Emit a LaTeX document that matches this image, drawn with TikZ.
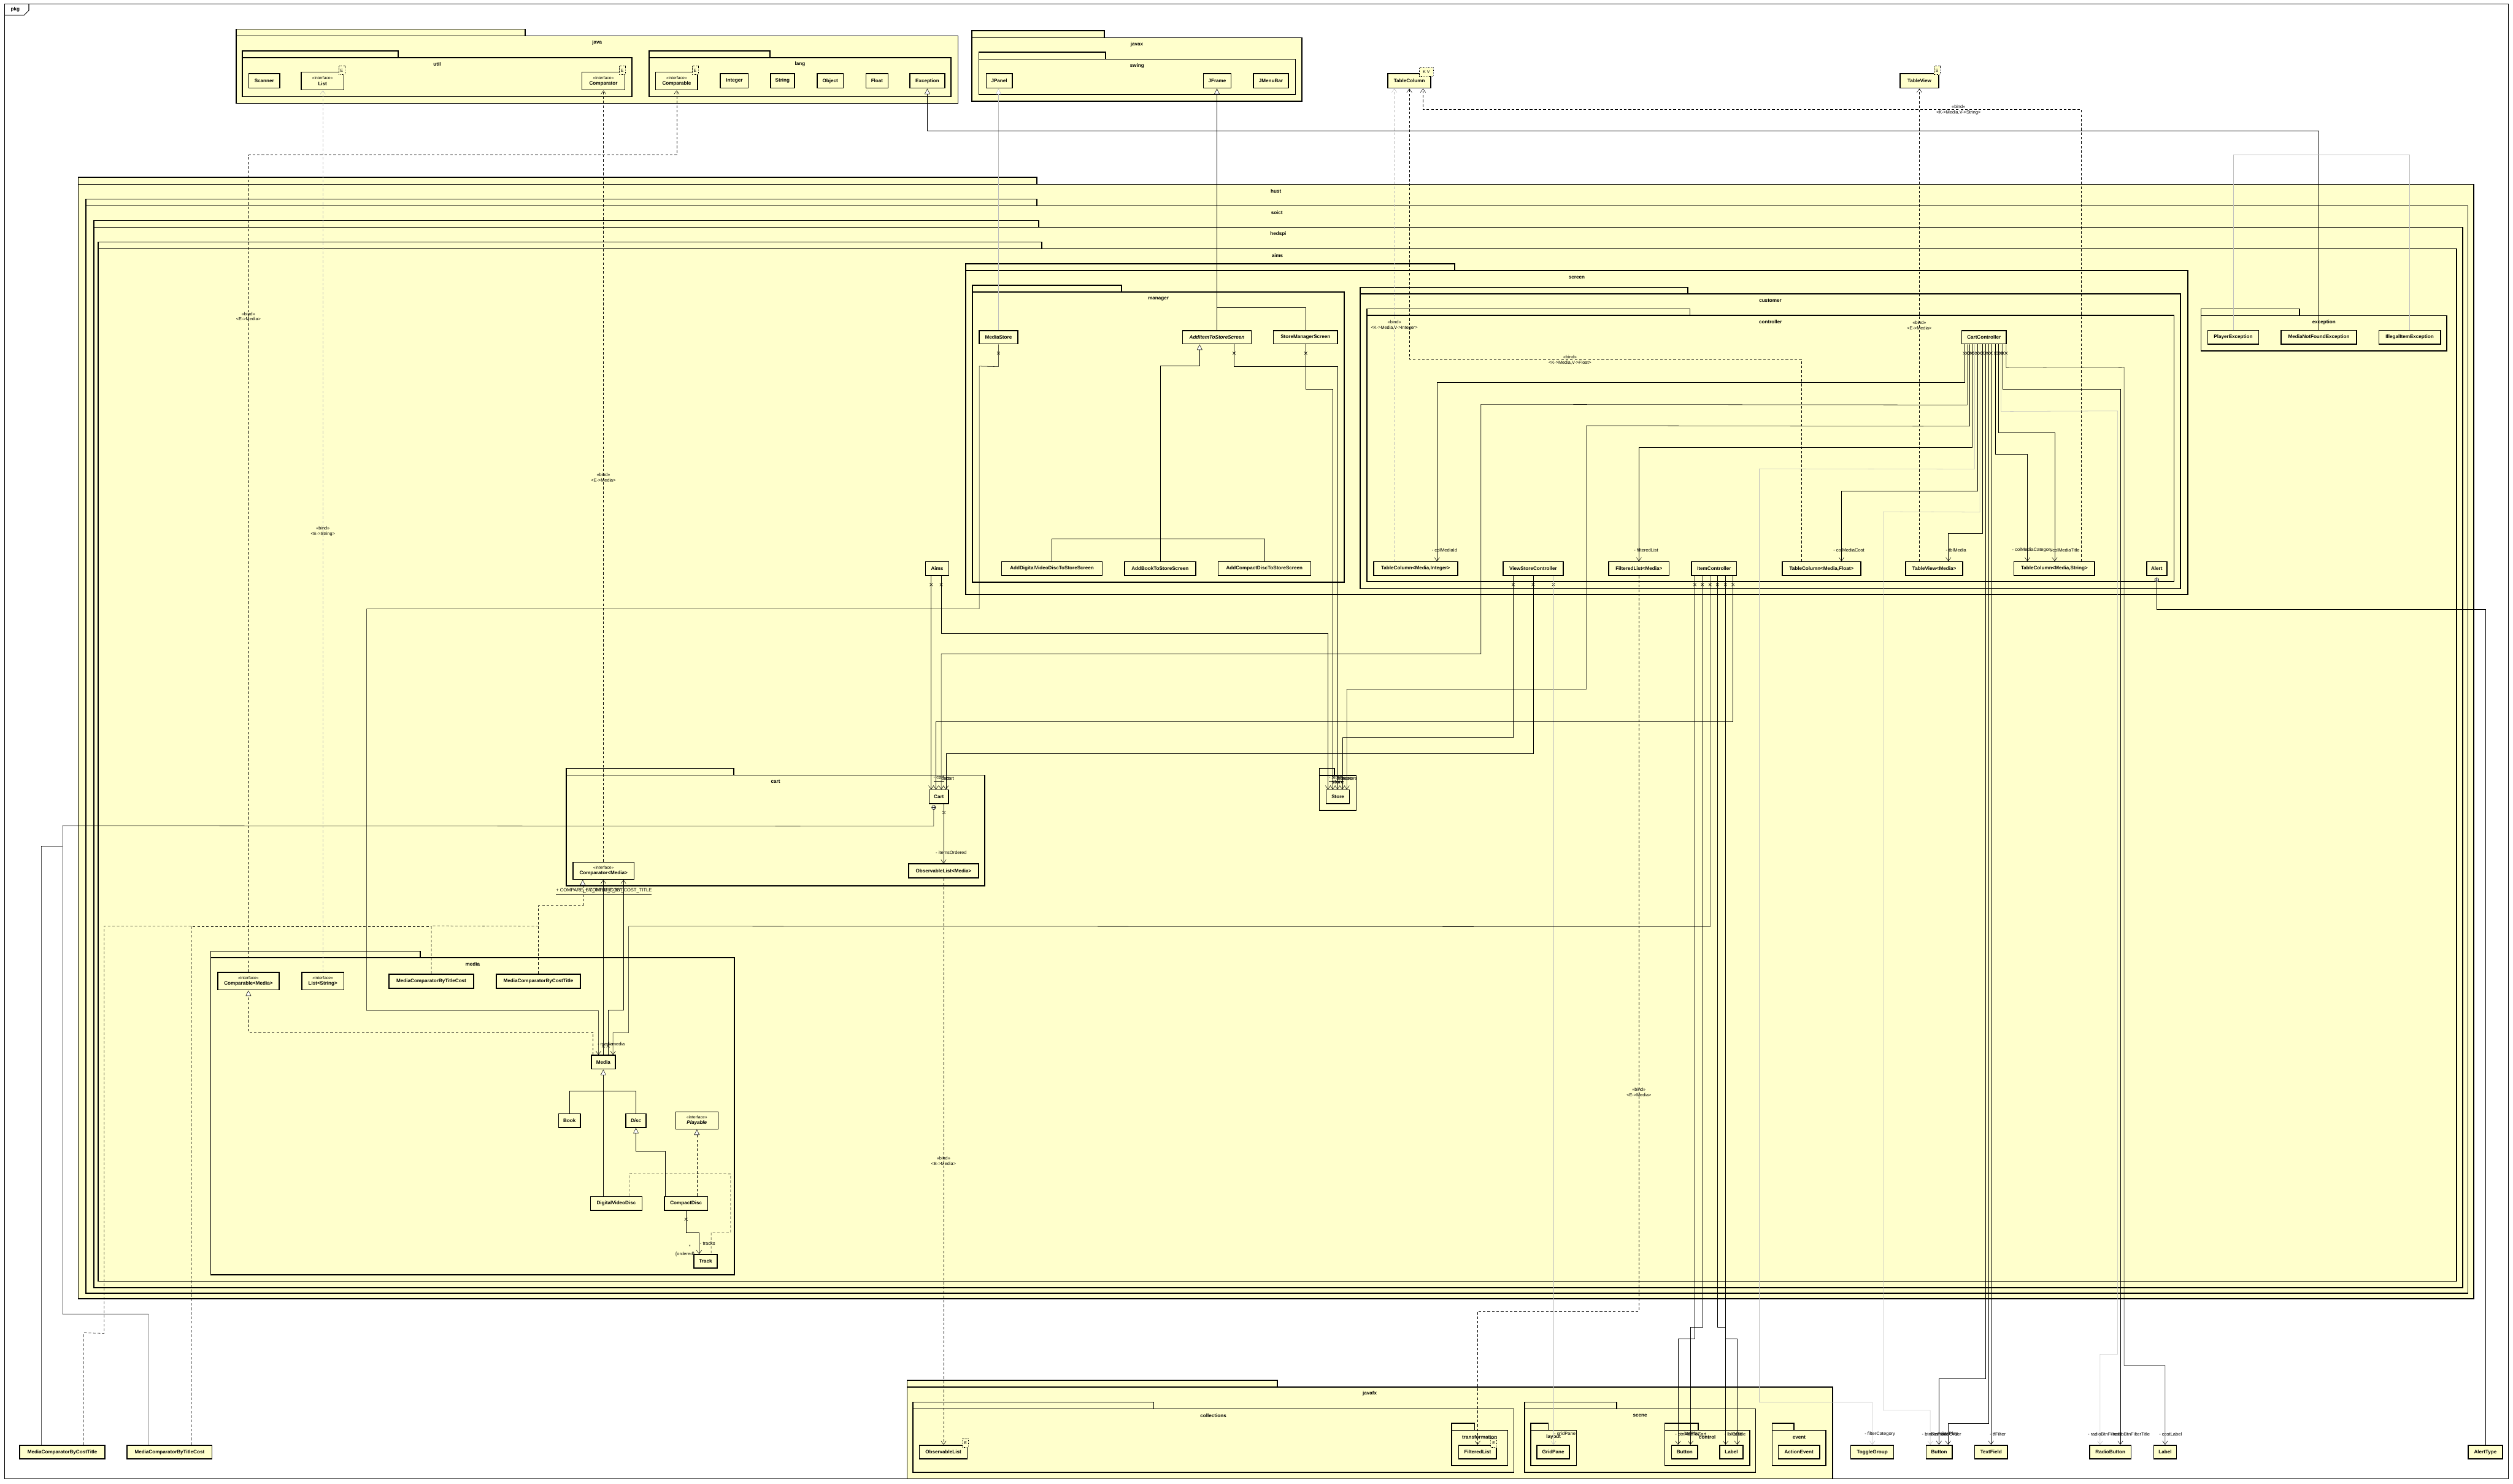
\documentclass[tikz,border=0pt]{standalone}
\usepackage{fontspec}
\setmainfont{Liberation Sans}
\usetikzlibrary{arrows.meta}
\definecolor{giallo}{HTML}{FFFFCC}
\definecolor{grigio}{HTML}{BEBEBE}
\newcommand{\stereo}[1]{{\fontsize{2.6}{3}\selectfont\mdseries #1}\\}
\newcommand{\umlpkg}[7]{%
  \draw[pkgbox] (#1,#3) rectangle (#2,#4);
  \draw[pkgbox] (#1,#4) rectangle (#5,#6);
  \node[pkglbl] at ({(#1+#5)/2},#4+4.2) {#7};}

\begin{document}
\begin{tikzpicture}[x=1pt, y=-1pt,
  pkgbox/.style={draw, line width=0.6, fill=giallo},
  pkglbl/.style={font=\fontsize{3.1}{3.6}\selectfont\bfseries, inner sep=0},
  cls/.style={draw, line width=0.6, fill=giallo, inner sep=0, align=center,
    font=\fontsize{3.1}{3.5}\selectfont\bfseries},
  tparam/.style={draw, dash pattern=on 0.5pt off 0.5pt, line width=0.25, fill=giallo,
    inner sep=0.3, font=\fontsize{2.6}{3}\selectfont},
  conn/.style={line width=0.2},
  assoc/.style={conn, -{Straight Barb[length=2.2pt, width=3.2pt]}},
  gen/.style={conn, -{Triangle[length=3.4pt, width=3.4pt, fill=white]}},
  dashd/.style={conn, dash pattern=on 1.6pt off 1.2pt},
  real/.style={gen, dashd},
  bind/.style={assoc, dashd},
  rolelbl/.style={font=\fontsize{2.9}{3}\selectfont, inner sep=0},
  bindlbl/.style={font=\fontsize{2.8}{3.4}\selectfont, align=center, inner sep=0},
  xmark/.pic={\draw[line width=0.2] (-0.9,-0.9) -- (0.9,0.9) (-0.9,0.9) -- (0.9,-0.9);},
  nest/.pic={\draw[line width=0.2, fill=white] (0,0) circle (1.3pt);
    \draw[line width=0.2] (-1.3,0) -- (1.3,0) (0,-1.3) -- (0,1.3);}]
\useasboundingbox (0,0) rectangle (1568,926);
% cornice
\draw[line width=0.4] (2.8,2.5) rectangle (1565,922.8);
\draw[line width=0.4] (2.8,9.5) -- (15,9.5) -- (18,6.5) -- (18,2.5);
\node[pkglbl] at (9.5,6) {pkg};

% pacchetti
\umlpkg{147.3}{327.7}{18.2}{22.4}{597.8}{64.5}{java}
\umlpkg{151.2}{248.4}{31.7}{35.9}{394.3}{60.3}{util}
\umlpkg{405}{480.4}{31.7}{35.9}{593.3}{60.3}{lang}
\umlpkg{606.4}{689}{19.2}{23.5}{812.3}{63.2}{javax}
\umlpkg{610.7}{689.8}{32.6}{37}{808.3}{59}{swing}
\umlpkg{48.8}{647}{110.7}{115}{1543.5}{810.5}{hust}
\umlpkg{53.6}{647}{124.2}{128.4}{1539.8}{807}{soict}
\umlpkg{58.5}{648}{137.7}{141.9}{1536.6}{803.5}{hedspi}
\umlpkg{61.3}{650}{151.1}{155.3}{1532.7}{799.5}{aims}
\umlpkg{602.6}{907.7}{164.6}{168.8}{1365}{371}{screen}
\umlpkg{606.8}{699.7}{178}{182.3}{838.8}{363.2}{manager}
\umlpkg{848.7}{1053}{179.3}{183.4}{1360.5}{367.3}{customer}
\umlpkg{853}{1054.5}{192.8}{196.7}{1356.5}{363}{controller}
\umlpkg{1373.3}{1434.7}{192.7}{196.9}{1526.7}{219}{exception}
\umlpkg{353.3}{457.9}{479.4}{483.6}{614.5}{552.8}{cart}
\umlpkg{823.2}{832.6}{479.4}{483.8}{846.2}{505.6}{store}
\umlpkg{131.5}{262.3}{593.6}{597.6}{458.3}{795.5}{media}
\umlpkg{565.9}{797}{861.4}{865.5}{1143.5}{922.8}{javafx}
\umlpkg{569.6}{719.8}{874.9}{879.1}{944.5}{918.8}{collections}
\umlpkg{905.8}{920}{888.2}{892.5}{940.7}{914.6}{transformation}
\umlpkg{951.2}{1008.6}{874.9}{879.1}{1095.4}{918.8}{scene}
\umlpkg{955}{966}{888.2}{892.5}{983.7}{914.6}{layout}
\umlpkg{1038.8}{1059.7}{888.2}{892.5}{1091.7}{914.6}{control}
\umlpkg{1105.8}{1119.3}{888.2}{892.5}{1139.3}{914.6}{event}

% java, javax
\node[cls, minimum width=19.2, minimum height=9] (scanner) at (164.9,50.5) {Scanner};
\node[cls, minimum width=26.5, minimum height=11.1] (list) at (201.25,50.55) {\stereo{<<interface>>}List};
\node[cls, minimum width=26.8, minimum height=11.1] (comparator) at (376.5,50.55) {\stereo{<<interface>>}Comparator};
\node[cls, minimum width=26.2, minimum height=11.1] (comparable) at (422.2,50.55) {\stereo{<<interface>>}Comparable};
\node[cls, minimum width=17.4, minimum height=9] (integer) at (458.2,50.5) {Integer};
\node[cls, minimum width=15.1, minimum height=9] (string) at (488.25,50.5) {String};
\node[cls, minimum width=16.2, minimum height=9] (object) at (518,50.5) {Object};
\node[cls, minimum width=13.8, minimum height=9] (float) at (547.2,50.5) {Float};
\node[cls, minimum width=21.8, minimum height=9] (exception) at (578.6,50.5) {Exception};
\node[tparam, minimum width=3.8, minimum height=5.4] (listE) at (213.2,43.9) {E};
\node[tparam, minimum width=3.8, minimum height=5.4] (comparatorE) at (388.2,43.9) {E};
\node[tparam, minimum width=3.8, minimum height=5.4] (comparableE) at (433.7,43.9) {E};
\node[cls, minimum width=16.3, minimum height=9] (jpanel) at (623.45,50.5) {JPanel};
\node[cls, minimum width=17.2, minimum height=9] (jframe) at (759.5,50.5) {JFrame};
\node[cls, minimum width=22, minimum height=9] (jmenubar) at (793,50.5) {JMenuBar};
\node[cls, minimum width=26.7, minimum height=9] (tablecolumn) at (879.35,50.5) {TableColumn};
\node[tparam, minimum width=8.6, minimum height=5.5] (tablecolumnKV) at (890,44.9) {K V};
\node[cls, minimum width=24, minimum height=9] (tableview) at (1197.6,50.5) {TableView};
\node[tparam, minimum width=3.8, minimum height=5.4] (tableviewS) at (1208.6,43.9) {S};

% manager
\node[cls, minimum width=24, minimum height=8.3] (mediastore) at (623,210.45) {MediaStore};
\node[cls, minimum width=43, minimum height=8.3] (additem) at (759.3,210.45) {\itshape AddItemToStoreScreen};
\node[cls, minimum width=40.1, minimum height=8.3] (storemgr) at (814.55,210.45) {StoreManagerScreen};
\node[cls, minimum width=62.7, minimum height=8.5] (adddvd) at (656.35,354.75) {AddDigitalVideoDiscToStoreScreen};
\node[cls, minimum width=44.4, minimum height=8.5] (addbook) at (723.8,354.75) {AddBookToStoreScreen};
\node[cls, minimum width=57.8, minimum height=8.5] (addcd) at (788.9,354.75) {AddCompactDiscToStoreScreen};

% controller
\node[cls, minimum width=27.8, minimum height=8.3] (cartctl) at (1237.9,210.45) {CartController};
\node[cls, minimum width=52.5, minimum height=8.5] (colint) at (883.25,354.75) {TableColumn<Media,Integer>};
\node[cls, minimum width=37.6, minimum height=8.5] (viewstore) at (956.6,354.75) {ViewStoreController};
\node[cls, minimum width=37.6, minimum height=8.5] (filtered) at (1022.6,354.75) {FilteredList<Media>};
\node[cls, minimum width=28.1, minimum height=8.5] (itemctl) at (1069.55,354.75) {ItemController};
\node[cls, minimum width=49, minimum height=8.5] (colfloat) at (1136.5,354.75) {TableColumn<Media,Float>};
\node[cls, minimum width=35.7, minimum height=8.5] (tblview) at (1206.85,354.75) {TableView<Media>};
\node[cls, minimum width=50.4, minimum height=8.5] (colstr) at (1281.8,354.75) {TableColumn<Media,String>};
\node[cls, minimum width=12.6, minimum height=8.5] (alert) at (1345.7,354.75) {Alert};
\node[cls, minimum width=14.5, minimum height=8.5] (aims) at (584.75,354.75) {Aims};

% exception
\node[cls, minimum width=31.8, minimum height=8.5] (playerexc) at (1393.4,210.45) {PlayerException};
\node[cls, minimum width=47.1, minimum height=8.5] (medianotfound) at (1446.85,210.45) {MediaNotFoundException};
\node[cls, minimum width=38.4, minimum height=8.5] (illegal) at (1503.5,210.45) {IllegalItemException};

% cart, store
\node[cls, minimum width=12.2, minimum height=8.6] (cart) at (585.8,497.2) {Cart};
\node[cls, minimum width=43.7, minimum height=8.6] (obslistmedia) at (588.75,543.4) {ObservableList<Media>};
\node[cls, minimum width=38.1, minimum height=10.7] (compmedia) at (376.55,543.35) {\stereo{<<interface>>}Comparator<Media>};
\node[cls, minimum width=14.5, minimum height=8.5] (storecls) at (834.75,497.15) {Store};

% media
\node[cls, minimum width=38.4, minimum height=10.9] (comparablemedia) at (155,612.25) {\stereo{<<interface>>}Comparable<Media>};
\node[cls, minimum width=26.3, minimum height=10.9] (liststring) at (201.45,612.25) {\stereo{<<interface>>}List<String>};
\node[cls, minimum width=52.7, minimum height=8.7] (mctc) at (269.15,612.25) {MediaComparatorByTitleCost};
\node[cls, minimum width=52.5, minimum height=8.7] (mcct) at (335.95,612.25) {MediaComparatorByCostTitle};
\node[cls, minimum width=14.9, minimum height=8.6] (media) at (376.45,662.8) {Media};
\node[cls, minimum width=13.7, minimum height=8.5] (book) at (355.35,699.25) {Book};
\node[cls, minimum width=12.6, minimum height=8.5] (disc) at (396.8,699.25) {\itshape Disc};
\node[cls, minimum width=26.4, minimum height=10.7] (playable) at (434.8,699.15) {\stereo{<<interface>>}\itshape Playable};
\node[cls, minimum width=32.2, minimum height=8.6] (dvd) at (384.5,750.9) {DigitalVideoDisc};
\node[cls, minimum width=27.1, minimum height=8.6] (cd) at (428.05,750.9) {CompactDisc};
\node[cls, minimum width=14.4, minimum height=8.5] (track) at (440.2,787.05) {Track};

% javafx
\node[cls, minimum width=29.8, minimum height=8.6] (obslist) at (588.6,906.1) {ObservableList};
\node[tparam, minimum width=3.8, minimum height=5.5] (obslistE) at (602.4,900.5) {E};
\node[cls, minimum width=23.5, minimum height=8.6] (filteredlist) at (921.95,906.1) {FilteredList};
\node[tparam, minimum width=3.8, minimum height=5.5] (filteredlistE) at (932,900.5) {E};
\node[cls, minimum width=20.2, minimum height=8.6] (gridpane) at (969.1,906.1) {GridPane};
\node[cls, minimum width=16.3, minimum height=8.6] (button) at (1051.15,906.1) {Button};
\node[cls, minimum width=14.6, minimum height=8.6] (label) at (1080.3,906.1) {Label};
\node[cls, minimum width=25.7, minimum height=8.6] (actionevent) at (1122.45,906.1) {ActionEvent};

% fuori dai pacchetti
\node[cls, minimum width=26.8, minimum height=8.6] (togglegroup) at (1168.2,906.1) {ToggleGroup};
\node[cls, minimum width=16.2, minimum height=8.6] (buttonb) at (1209.9,906.1) {Button};
\node[cls, minimum width=20.6, minimum height=8.6] (textfield) at (1242.3,906.1) {TextField};
\node[cls, minimum width=25.7, minimum height=8.6] (radiobutton) at (1316.75,906.1) {RadioButton};
\node[cls, minimum width=14.2, minimum height=8.6] (labelb) at (1350.9,906.1) {Label};
\node[cls, minimum width=21.5, minimum height=8.6] (alerttype) at (1550.75,906.1) {AlertType};
\node[cls, minimum width=53.2, minimum height=8.6] (mccosttitle) at (38.9,906.1) {MediaComparatorByCostTitle};
\node[cls, minimum width=53, minimum height=8.6] (mctitlecost) at (105.8,906.1) {MediaComparatorByTitleCost};

% generalizzazioni
\draw[gen, draw=grigio] (mediastore.north) -- (mediastore.north |- jpanel.south);
\draw[gen] (additem.north) -- (additem.north |- jframe.south);
\draw[conn] (storemgr.north) -- ++(0,-14.3) -| (additem.north);
\draw[conn] (adddvd.north) -- ++(0,-14.1) -| (addcd.north);
\draw[gen] (addbook.north) -- ++(0,-122) -| ([xshift=-10.8]additem.south);
\draw[gen] (medianotfound.north) -- ++(0,-124.2) -| (exception.south);
\draw[conn, draw=grigio] (playerexc.north) -- ++(0,-109.2) -| (illegal.north);
\draw[conn] (book.north) -- ++(0,-14) -| (disc.north);
\draw[gen] (media.south |- dvd.north) -- (media.south);
\draw[gen] ([xshift=-13.05]cd.north) -- ++(0,-28.1) -| (disc.south);

% realizzazioni
\draw[real] (playable.south |- cd.north) -- (playable.south);
\draw[dashd] ([xshift=8.2]dvd.north) -- ++(0,-14) -- (455.9,732.6) -- (455.9,769) -| ([xshift=3.5]track.north);
\draw[real] ([xshift=-6.45]media.north) -- ++(0,-14.1) -| (comparablemedia.south);
\draw[real] (mcct.north) -- ++(0,-42.5) -| ([xshift=-12.95]compmedia.south);
\draw[dashd] (mctc.north) -- ++(0,-29.9) -- (335.95,578);
\draw[dashd] ([xshift=13.2]mctitlecost.north) -- (119,578) -- (269.15,578);
\draw[dashd] ([xshift=13.4]mccosttitle.north) -- ++(0,-69.8) -- (65,832) -- (65,578) -- (119,578);

% bind
\draw[bind, draw=grigio] (liststring.north) -- (liststring.north |- list.south);
\node[bindlbl] at (201.45,331.5) {<<bind>>\\<E->String>};
\draw[bind] (compmedia.north) -- (compmedia.north |- comparator.south);
\node[bindlbl] at (376.5,298) {<<bind>>\\<E->Media>};
\draw[bind] (comparablemedia.north) -- ++(0,-509.8) -| (comparable.south);
\node[bindlbl] at (155,197.5) {<<bind>>\\<E->Media>};
\draw[bind] (obslistmedia.south) -- (obslistmedia.south |- obslist.north);
\node[bindlbl] at (588.7,724.5) {<<bind>>\\<E->Media>};
\draw[bind] (filtered.south) -- (1022.6,818) -| (filteredlist.north);
\node[bindlbl] at (1022.6,681.5) {<<bind>>\\<E->Media>};
\draw[bind, draw=grigio] ([xshift=-13.25]colint.north) -- ([xshift=-9.35]tablecolumn.south);
\node[bindlbl] at (870,203) {<<bind>>\\<K->Media,V->Integer>};
\draw[bind] ([xshift=-12.5]colfloat.north) -- ++(0,-126.1) -| (tablecolumn.south);
\node[bindlbl] at (979.6,224.8) {<<bind>>\\<K->Media,V->Float>};
\draw[bind] ([xshift=16.9]colstr.north) -- ++(0,-281.8) -| ([xshift=8.55]tablecolumn.south);
\node[bindlbl] at (1222,68.7) {<<bind>>\\<K->Media,V->String>};
\draw[bind] (tblview.north -| tableview.south) -- (tableview.south);
\node[bindlbl] at (1197.6,203) {<<bind>>\\<E->Media>};

% CartController
\foreach \dx in {-12.2,-10.5,-8.9,-7.5,-5.9,-4.2,-2.5,-0.9,1.1,2.7,4.4,7.1,9.1,10.6,11.8,13.8}
  \pic at ([xshift=\dx, yshift=-5.5]cartctl.south) {xmark};
\draw[assoc] ([xshift=-12.2]cartctl.south) -- ++(0,23.8) -| ([xshift=13.35]colint.north);
\draw[assoc] ([xshift=-10.5]cartctl.south) -- ++(0,37.8) -- (924,252.4) -- (924,408) -| ([xshift=1.5]cart.north);
\draw[assoc] ([xshift=-8.9]cartctl.south) -- ++(0,51) -- (989.8,265.6) -- (989.8,430) -| ([xshift=5.55]storecls.north);
\draw[assoc] ([xshift=-7.5]cartctl.south) -- ++(0,64.4) -| (filtered.north);
\draw[assoc, draw=grigio] ([xshift=-5.9]cartctl.south) -- ++(0,77.9) -- (1097.7,292.5) -- (1097.7,875) -| (togglegroup.north);
\draw[assoc] ([xshift=-4.2]cartctl.south) -- ++(0,91.3) -| ([xshift=12.5]colfloat.north);
\draw[assoc, draw=grigio] ([xshift=-2.5]cartctl.south) -- ++(0,104.7) -- (1175,319.3) -- (1175,880) -| ([xshift=-5.5]buttonb.north);
\draw[assoc] ([xshift=-0.9]cartctl.south) -- ++(0,118) -| ([xshift=8.85]tblview.north);
\draw[assoc] ([xshift=1.1]cartctl.south) -- ++(0,645.4) -| ([xshift=-0.1]buttonb.north);
\draw[assoc] ([xshift=2.7]cartctl.south) -- ++(0,673.2) -| ([xshift=5.6]buttonb.north);
\draw[assoc] ([xshift=4.4]cartctl.south) -- ([xshift=4.4]cartctl.south |- textfield.north);
\draw[assoc] ([xshift=7.1]cartctl.south) -- ++(0,68.6) -| ([xshift=-16.8]colstr.north);
\draw[assoc] ([xshift=9.1]cartctl.south) -- ++(0,55.2) -| ([xshift=0.2]colstr.north);
\draw[assoc, draw=grigio] ([xshift=10.6]cartctl.south) -- ++(0,41.8) -- (1321.3,256.4) -- (1321.3,845) -| ([xshift=-6.45]radiobutton.north);
\draw[assoc] ([xshift=11.8]cartctl.south) -- ++(0,27.9) -| ([xshift=6.25]radiobutton.north);
\draw[assoc] ([xshift=13.8]cartctl.south) -- ++(0,14.5) -- (1325.3,229.1) -- (1325.3,852) -| (labelb.north);

% ViewStoreController, ItemController
\foreach \dx in {-12.4,0,12.7}
  \pic at ([xshift=\dx, yshift=-5.5]viewstore.south) {xmark};
\draw[assoc] ([xshift=-12.4]viewstore.south) -- ++(0,101) -| ([xshift=2.75]storecls.north);
\draw[assoc] (viewstore.south) -- ++(0,111) -| ([xshift=4.4]cart.north);
\draw[assoc, draw=grigio] ([xshift=12.7]viewstore.south) -- ([xshift=0.2]gridpane.north);
\foreach \dx in {-12.05,-7.35,-2.55,2.05,7.05,11.75}
  \pic at ([xshift=\dx, yshift=-5.5]itemctl.south) {xmark};
\draw[assoc] ([xshift=-12.05]itemctl.south) -- ++(0,476) -| ([xshift=-4.15]button.north);
\draw[assoc] ([xshift=-7.35]itemctl.south) -- ++(0,469) -| ([xshift=3.65]button.north);
\draw[assoc] ([xshift=-2.55]itemctl.south) -- ++(0,219) -- (392.2,578) -- (392.2,644.4) -| ([xshift=6.05]media.north);
\draw[assoc] ([xshift=2.05]itemctl.south) -- ++(0,469) -| ([xshift=-3.6]label.north);
\draw[assoc] ([xshift=7.05]itemctl.south) -- ++(0,476) -| ([xshift=3.6]label.north);
\draw[assoc] ([xshift=11.75]itemctl.south) -- ++(0,91) -| ([xshift=-1.8]cart.north);

% manager -> store, media
\pic at ([yshift=-5.5]mediastore.south) {xmark};
\pic at ([xshift=10.7, yshift=-5.5]additem.south) {xmark};
\pic at ([xshift=0.15, yshift=-5.5]storemgr.south) {xmark};
\draw[assoc] (mediastore.south) -- ++(0,13.9) -- (611,228.5) -- (611,380) -- (228.8,380) -- (228.8,630.6) -| ([xshift=-3.05]media.north);
\draw[assoc] ([xshift=10.7]additem.south) -- ++(0,13.9) -| ([xshift=-0.25]storecls.north);
\draw[assoc] ([xshift=0.15]storemgr.south) -- ++(0,27.9) -| ([xshift=-3.15]storecls.north);

% Aims, Cart, Media
\pic at ([xshift=-3.75, yshift=-5.5]aims.south) {xmark};
\pic at ([xshift=2.5, yshift=-5.5]aims.south) {xmark};
\draw[assoc] ([xshift=-3.75]aims.south) -- ([xshift=-4.8]cart.north);
\draw[assoc] ([xshift=2.5]aims.south) -- ++(0,36) -| ([xshift=-6.15]storecls.north);
\pic at ([xshift=3.2, yshift=-5.2]cart.south) {xmark};
\draw[assoc] (obslistmedia.north |- cart.south) -- (obslistmedia.north);
\pic at ([yshift=5.5]media.north) {xmark};
\pic at ([xshift=3, yshift=5.5]media.north) {xmark};
\draw[assoc] (media.north) -- (media.north |- compmedia.south);
\draw[assoc] ([xshift=3]media.north) -- ++(0,-27.9) -| ([xshift=12.45]compmedia.south);
\pic at ([yshift=-5.3]cd.south) {xmark};
\draw[assoc] (cd.south) -- ++(0,13.8) -| ([xshift=-4]track.north);

% classi annidate
\pic at ([xshift=-3.2, yshift=-2.1]cart.south) {nest};
\draw[conn] ([xshift=-3.2, yshift=-3.4]cart.south) -- ++(0,10.3) -- (39,515.2) -- (39,820) -| ([xshift=-13.2]mctitlecost.north);
\draw[conn] ([xshift=-13.1]mccosttitle.north) -- (25.8,528) -- (39,528);
\pic at ([yshift=-2.5]alert.south) {nest};
\draw[conn] ([yshift=-3.8]alert.south) -- ++(0,17.2) -| (alerttype.north);

% etichette dei ruoli
\node[rolelbl] at (901.3,343.2) {- colMediaId};
\node[rolelbl] at (1027.1,343.2) {- filteredList};
\node[rolelbl] at (1153.6,343.2) {- colMediaCost};
\node[rolelbl] at (1220.5,343.2) {- tblMedia};
\node[rolelbl, anchor=west] at (1255.3,343.2) {- colMediaCategory};
\node[rolelbl, anchor=east] at (1297.8,343.2) {- colMediaTitle};
\node[rolelbl, anchor=west] at (372.7,651.5) {- media};
\node[rolelbl, anchor=west] at (380,651.5) {- media};
\node[rolelbl] at (441.5,775.9) {- tracks};
\node[rolelbl] at (430.4,777.9) {*};
\node[rolelbl] at (427.4,782.8) {\{ordered\}};
\node[rolelbl, anchor=west] at (346.8,556.6) {\underline{+ COMPARE\_BY\_TITLE\_COST}};
\node[rolelbl, anchor=east] at (406.9,556.6) {\underline{+ COMPARE\_BY\_COST\_TITLE}};
\node[rolelbl] at (593.5,532.1) {- itemsOrdered};
\node[rolelbl, anchor=west] at (582.3,486) {\underline{- cart}};
\node[rolelbl, anchor=west] at (585.5,486) {- cart};
\node[rolelbl, anchor=west] at (588.5,486) {- cart};
\node[rolelbl, anchor=west] at (829,486) {\underline{- store}};
\node[rolelbl, anchor=west] at (832,486) {- store};
\node[rolelbl, anchor=west] at (835,486) {- store};
\node[rolelbl, anchor=west] at (838.5,486) {- store};
\node[rolelbl, anchor=west] at (969.5,895) {- gridPane};
\node[rolelbl, anchor=west] at (1045,895) {- btnAddToCart};
\node[rolelbl, anchor=west] at (1049,895) {- btnPlay};
\node[rolelbl, anchor=west] at (1075.8,895) {- lblCost};
\node[rolelbl, anchor=west] at (1079,895) {- lblTitle};
\node[rolelbl] at (1173,895) {- filterCategory};
\node[rolelbl, anchor=west] at (1199,895) {- btnRemove};
\node[rolelbl, anchor=west] at (1203,895) {- btnPlaceOrder};
\node[rolelbl, anchor=west] at (1210,895) {- btnPlay};
\node[rolelbl, anchor=west] at (1241.4,895) {- tfFilter};
\node[rolelbl, anchor=west] at (1302.5,895) {- radioBtnFilterId};
\node[rolelbl, anchor=east] at (1341.6,895) {- radioBtnFilterTitle};
\node[rolelbl, anchor=west] at (1347,895) {- costLabel};
\end{tikzpicture}
\end{document}
